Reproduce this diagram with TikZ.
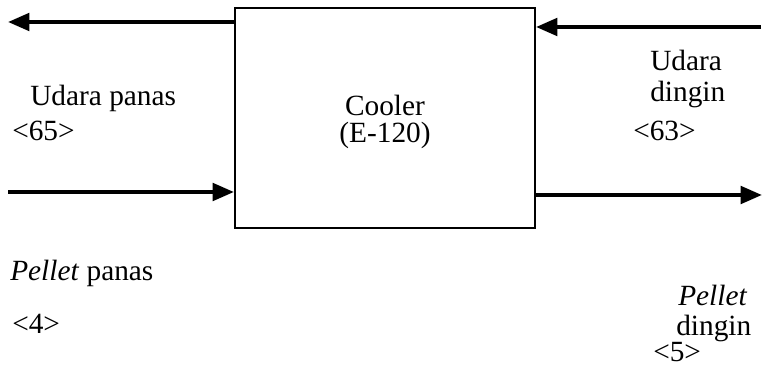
\documentclass[tikz,border=0pt]{standalone}
\usepackage{fontspec}
\setmainfont{Liberation Serif}
\usetikzlibrary{arrows.meta}
\begin{document}
\begin{tikzpicture}[x=0.75pt,y=-0.75pt,
  lbl/.style={anchor=base west,inner sep=0pt,font=\fontsize{22}{26}\selectfont},
  flow/.style={line width=3pt,-{Triangle[length=16pt,width=13pt]}},
  boxst/.style={draw,line width=1.5pt,minimum width=225pt,minimum height=165pt,inner sep=0pt}]
\useasboundingbox (0,0) rectangle (769,367);
\node[boxst] (box) at (385,118) {};
\node[font=\fontsize{22}{26}\selectfont,anchor=base,inner sep=0pt] (c1) at (385,116) {Cooler};
\node[font=\fontsize{22}{26}\selectfont,anchor=base,inner sep=0pt] (c2) at (385,143) {(E-120)};
\coordinate (tl) at (8,22);
\coordinate (tr) at (761,27);
\coordinate (ml) at (8,192);
\coordinate (mr) at (762,195);
\draw[flow] (box.west |- tl) -- (tl);
\draw[flow] (tr) -- (box.east |- tr);
\draw[flow] (ml) -- (box.west |- ml);
\draw[flow] (box.east |- mr) -- (mr);
\node[lbl] (t1) at (30,106) {Udara panas};
\node[lbl] (t2) at (12,141) {<65>};
\node[lbl] (t3) at (650,71) {Udara};
\node[lbl] (t4) at (650,102) {dingin};
\node[lbl] (t5) at (633,141) {<63>};
\node[lbl] (t6) at (10,281) {\textit{Pellet} panas};
\node[lbl] (t7) at (12,334) {<4>};
\node[lbl] (t8) at (678,306) {\textit{Pellet}};
\node[lbl] (t9) at (676,336) {dingin};
\node[lbl] (t10) at (653,362) {<5>};
\end{tikzpicture}
\end{document}
